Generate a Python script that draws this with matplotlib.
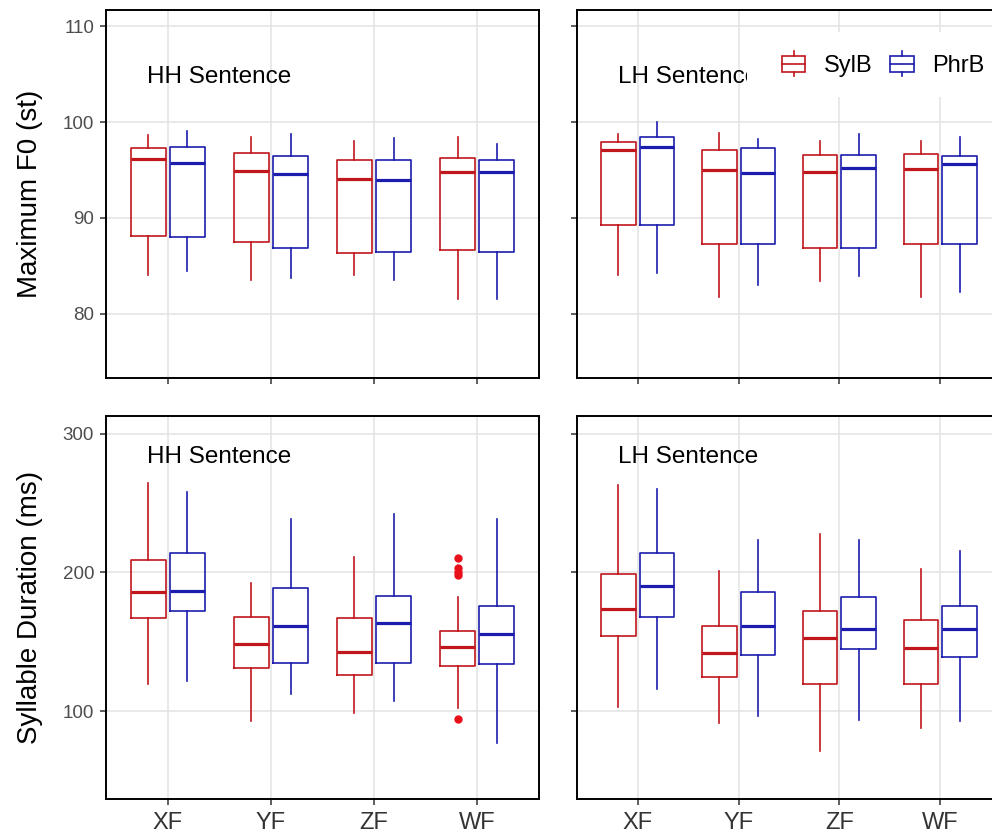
import numpy as np
import matplotlib.pyplot as plt
from matplotlib.legend_handler import HandlerBase
from matplotlib.patches import Rectangle
from matplotlib.lines import Line2D

plt.rcParams['font.family'] = ['Liberation Sans', 'DejaVu Sans']

# categories / groups
categories = ['XF', 'YF', 'ZF', 'WF']
groups = ['SylB', 'PhrB']

# box stats per category: (whisker low, Q1, median, Q3, whisker high)
# Maximum F0 (st), HH sentence
f0_hh_sylb = [(84.0, 88.1, 96.2, 97.3, 98.7), (83.5, 87.5, 94.9, 96.8, 98.4),
              (84.1, 86.3, 94.1, 96.0, 98.0), (81.5, 86.7, 94.8, 96.3, 98.4)]
f0_hh_phrb = [(84.5, 88.0, 95.7, 97.4, 99.1), (83.7, 86.9, 94.6, 96.5, 98.8),
              (83.5, 86.5, 94.0, 96.0, 98.3), (81.5, 86.4, 94.8, 96.0, 97.7)]
# Maximum F0 (st), LH sentence
f0_lh_sylb = [(84.1, 89.3, 97.1, 97.9, 98.8), (81.8, 87.3, 95.0, 97.1, 98.9),
              (83.4, 86.9, 94.8, 96.6, 98.0), (81.8, 87.3, 95.1, 96.7, 98.0)]
f0_lh_phrb = [(84.3, 89.3, 97.4, 98.5, 100.0), (83.0, 87.3, 94.7, 97.3, 98.2),
              (83.9, 86.9, 95.2, 96.6, 98.8), (82.3, 87.3, 95.6, 96.5, 98.4)]
# Syllable duration (ms), HH sentence
dur_hh_sylb = [(119.7, 167.2, 185.7, 209.0, 264.2), (93.0, 131.2, 148.3, 168.2, 192.7),
               (98.6, 126.4, 142.7, 167.5, 211.2), (102.2, 132.9, 146.6, 158.1, 182.4)]
dur_hh_phrb = [(121.6, 172.0, 186.4, 213.8, 257.7), (112.2, 134.8, 161.2, 188.6, 238.3),
               (107.7, 134.8, 163.4, 183.1, 241.9), (77.2, 133.9, 155.7, 175.6, 238.3)]
dur_hh_sylb_out = [[], [], [], [210.2, 203.0, 200.6, 198.2, 94.6]]
# Syllable duration (ms), LH sentence
dur_lh_sylb = [(103.4, 154.3, 173.5, 199.2, 263.0), (91.8, 124.7, 141.8, 161.7, 201.1),
               (71.4, 119.9, 153.1, 172.0, 228.0), (88.0, 119.9, 145.4, 165.6, 202.8)]
dur_lh_phrb = [(116.1, 168.2, 190.3, 213.8, 260.4), (96.6, 140.3, 161.2, 186.0, 223.4),
               (93.7, 145.1, 159.5, 182.1, 223.4), (92.8, 139.4, 159.5, 175.6, 215.1)]

colors = {'SylB': '#C0161C', 'PhrB': '#1C1CAE'}
flier_col = '#E8101A'

W, H = 992, 834
fig = plt.figure(figsize=(W / 100, H / 100), dpi=100)


def add_ax(x0, y0, x1, y1):
    return fig.add_axes([x0 / W, 1 - y1 / H, (x1 - x0) / W, (y1 - y0) / H])


def draw(ax, sylb, phrb, sylb_out=None):
    pos = np.arange(1, len(categories) + 1)
    for data, g, off in [(sylb, 'SylB', -0.19), (phrb, 'PhrB', 0.19)]:
        col = colors[g]
        stats = []
        for i, v in enumerate(data):
            fl = sylb_out[i] if (g == 'SylB' and sylb_out) else []
            stats.append(dict(whislo=v[0], q1=v[1], med=v[2], q3=v[3], whishi=v[4], fliers=fl))
        ax.bxp(stats, positions=pos + off, widths=0.34, showcaps=False, manage_ticks=False,
               boxprops=dict(color=col, lw=1.2),
               whiskerprops=dict(color=col, lw=1.2),
               medianprops=dict(color=col, lw=2.3),
               flierprops=dict(marker='o', markerfacecolor=flier_col,
                               markeredgecolor=flier_col, markersize=5))
    ax.set_xlim(0.4, 4.6)
    ax.set_xticks(pos)
    ax.set_xticklabels(categories)
    ax.grid(True, color='#E3E3E3', lw=1.1)
    ax.set_axisbelow(True)
    for s in ax.spines.values():
        s.set_linewidth(1.4)
        s.set_color('black')
    ax.tick_params(direction='out', length=4.5, width=1.1, color='#333333')
    ax.tick_params(axis='y', labelsize=13.5, labelcolor='#4D4D4D', pad=4)
    ax.tick_params(axis='x', labelsize=17, labelcolor='#333333', pad=5)


ax_tl = add_ax(106, 10, 539, 378)
ax_tr = add_ax(577, 10, 1001, 378)
ax_bl = add_ax(106, 416, 539, 799)
ax_br = add_ax(577, 416, 1001, 799)

draw(ax_tl, f0_hh_sylb, f0_hh_phrb)
draw(ax_tr, f0_lh_sylb, f0_lh_phrb)
draw(ax_bl, dur_hh_sylb, dur_hh_phrb, dur_hh_sylb_out)
draw(ax_br, dur_lh_sylb, dur_lh_phrb)

for ax in (ax_tl, ax_tr):
    ax.set_ylim(73.3, 111.7)
    ax.set_yticks([80, 90, 100, 110])
    ax.tick_params(labelbottom=False)
for ax in (ax_bl, ax_br):
    ax.set_ylim(36.8, 312.7)
    ax.set_yticks([100, 200, 300])
for ax in (ax_tr, ax_br):
    ax.tick_params(labelleft=False)

ax_tl.set_ylabel('Maximum F0 (st)', fontsize=20)
ax_bl.set_ylabel('Syllable Duration (ms)', fontsize=20)
ax_tl.yaxis.set_label_coords(-0.145, 0.5)
ax_bl.yaxis.set_label_coords(-0.145, 0.5)

ax_tl.text(0.8, 104.7, 'HH Sentence', fontsize=17.5, va='center', ha='left')
ax_tr.text(0.81, 104.7, 'LH Sentence', fontsize=17.5, va='center', ha='left')
ax_bl.text(0.8, 283, 'HH Sentence', fontsize=17.5, va='center', ha='left')
ax_br.text(0.81, 283, 'LH Sentence', fontsize=17.5, va='center', ha='left')


# legend key: box with median line and whisker stubs
class BoxKey(HandlerBase):
    def create_artists(self, legend, orig, xd, yd, width, height, fontsize, trans):
        col = orig.get_color()
        x0, y0 = -xd, -yd
        box = Rectangle((x0, y0), width, height, fill=False, edgecolor=col, lw=1.2, transform=trans)
        mid = Line2D([x0, x0 + width], [y0 + height / 2] * 2, color=col, lw=1.2, transform=trans)
        cx = x0 + width / 2
        top = Line2D([cx, cx], [y0 + height, y0 + height * 1.3], color=col, lw=1.2, transform=trans)
        bot = Line2D([cx, cx], [y0, y0 - height * 0.3], color=col, lw=1.2, transform=trans)
        return [box, mid, top, bot]


# white legend background covering part of the panel
bg = Rectangle((747 / W, 1 - 97 / H), (W - 747) / W, 65 / H, transform=fig.transFigure,
               facecolor='white', edgecolor='none', zorder=5)
fig.patches.append(bg)

handles = [Line2D([], [], color=colors[g]) for g in groups]
leg = fig.legend(handles, groups, loc='center left', bbox_to_anchor=(770 / W, 1 - 66 / H),
                 ncol=2, frameon=False, fontsize=17, handlelength=1.0, handleheight=0.65,
                 handletextpad=0.78, columnspacing=0.75, borderpad=0,
                 handler_map={Line2D: BoxKey()})
leg.set_zorder(6)

fig.savefig('out.png', dpi=100)
